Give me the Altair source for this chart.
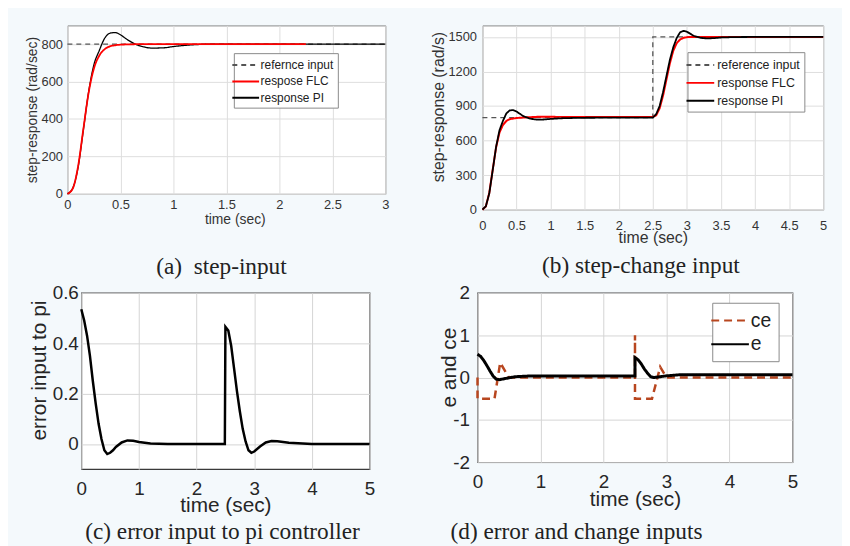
import altair as alt
import pandas as pd

# ---------------- (a) step-input ----------------
a_ref_t = [0, 3]
a_ref_v = [800, 800]
a_pi_t = [0, 0.05, 0.1, 0.15, 0.2, 0.25, 0.3, 0.35, 0.4, 0.45, 0.5, 0.55, 0.6, 0.65, 0.7, 0.8, 0.9, 1.0, 1.1, 1.2, 1.4, 1.6, 2.0, 3.0]
a_pi_v = [0, 30, 140, 340, 545, 690, 765, 830, 858, 862, 850, 830, 812, 798, 788, 779, 780, 787, 793, 797, 800, 800, 800, 800]
a_flc_t = [0, 0.05, 0.1, 0.15, 0.2, 0.25, 0.3, 0.35, 0.4, 0.45, 0.5, 0.6, 0.7, 0.8, 1.0, 1.5, 2.25]
a_flc_v = [0, 28, 145, 345, 540, 670, 738, 772, 788, 794, 797, 799, 800, 800, 800, 800, 800]
a_names = ["refernce input", "respose FLC", "response PI"]
a_xticks = [0, 0.5, 1, 1.5, 2, 2.5, 3]
a_yticks = [0, 200, 400, 600, 800]

# ---------------- (b) step-change input ----------------
b_ref_t = [0, 2.5, 2.5, 5]
b_ref_v = [800, 800, 1500, 1500]
b_flc_t = [0, 0.05, 0.1, 0.15, 0.2, 0.25, 0.3, 0.35, 0.4, 0.5, 0.6, 0.8, 1.0, 1.5, 2.0, 2.5,
           2.55, 2.6, 2.65, 2.7, 2.75, 2.8, 2.85, 2.9, 2.95, 3.0, 3.1, 3.3, 5.0]
b_flc_v = [0, 28, 145, 345, 540, 670, 735, 770, 786, 796, 800, 806, 806, 805, 805, 805,
           820, 880, 990, 1130, 1270, 1380, 1445, 1478, 1492, 1498, 1500, 1500, 1500]
b_pi_t = [0, 0.05, 0.1, 0.15, 0.2, 0.25, 0.3, 0.35, 0.4, 0.45, 0.5, 0.55, 0.6, 0.7, 0.8, 0.9, 1.0, 1.2, 1.5, 2.0, 2.5,
          2.55, 2.6, 2.65, 2.7, 2.75, 2.8, 2.85, 2.9, 2.95, 3.0, 3.05, 3.1, 3.2, 3.3, 3.4, 3.5, 3.7, 4.0, 5.0]
b_pi_v = [0, 30, 140, 340, 545, 690, 770, 835, 862, 865, 852, 832, 812, 790, 782, 783, 788, 795, 798, 799, 800,
          830, 900, 1020, 1160, 1300, 1410, 1490, 1540, 1553, 1545, 1528, 1510, 1492, 1487, 1490, 1495, 1499, 1500, 1500]
b_names = ["reference input", "response FLC", "response PI"]
b_xticks = [0, 0.5, 1, 1.5, 2, 2.5, 3, 3.5, 4, 4.5, 5]
b_yticks = [0, 300, 600, 900, 1200, 1500]

# ---------------- (c) error input to pi controller ----------------
c_t = [0, 0.05, 0.1, 0.15, 0.2, 0.25, 0.3, 0.35, 0.4, 0.45, 0.5, 0.55, 0.6, 0.7, 0.8, 0.9, 1.0, 1.2, 1.5, 2.49,
       2.5, 2.55, 2.6, 2.65, 2.7, 2.75, 2.8, 2.85, 2.9, 2.95, 3.0, 3.1, 3.2, 3.3, 3.4, 3.6, 4.0, 5.0]
c_v = [0.535, 0.49, 0.43, 0.35, 0.25, 0.16, 0.08, 0.02, -0.025, -0.04, -0.035, -0.025, -0.012, 0.006, 0.014, 0.013, 0.008, 0.002, 0.0, 0.0,
       0.465, 0.45, 0.39, 0.3, 0.21, 0.13, 0.06, 0.01, -0.025, -0.035, -0.03, -0.01, 0.006, 0.012, 0.011, 0.005, 0.0, 0.0]
c_xticks = [0, 1, 2, 3, 4, 5]
c_yticks = [0, 0.2, 0.4, 0.6]

# ---------------- (d) error and change inputs ----------------
d_ce_t = [0, 0, 0.27, 0.36, 0.5, 2.5, 2.5, 2.5, 2.77, 2.9, 3.0, 5.0]
d_ce_v = [0, -0.5, -0.5, 0.35, 0, 0, 1.0, -0.5, -0.5, 0.25, 0, 0]
d_e_t = [0, 0.05, 0.1, 0.15, 0.2, 0.25, 0.3, 0.35, 0.45, 0.6, 0.8, 2.5, 2.5, 2.55, 2.6, 2.65, 2.7, 2.75, 2.8, 2.9, 3.0, 3.2, 5.0]
d_e_v = [0.55, 0.5, 0.4, 0.28, 0.15, 0.03, -0.04, -0.05, -0.02, 0.02, 0.035, 0.035, 0.47, 0.42, 0.32, 0.2, 0.1, 0.02, 0.0, 0.02, 0.04, 0.065, 0.065]
d_names = ["ce", "e"]
d_xticks = [0, 1, 2, 3, 4, 5]
d_yticks = [-2, -1, 0, 1, 2]

captions = ["(a)\u00a0 step-input", "(b) step-change input",
            "(c) error input to pi controller", "(d) error and change inputs"]

FONT = "Liberation Sans"
SERIF = "Liberation Serif"
CAP_FS = 23.5


def df(t, v, name):
    return pd.DataFrame({"t": t, "v": v, "series": name, "i": list(range(len(t)))})


def xaxis(vals, fs, tfs, lpad, tx, ty, col, gcol):
    return alt.Axis(values=vals, labelExpr="toString(datum.value)", title="time (sec)", labelFontSize=fs, titleFontSize=tfs,
                    labelPadding=lpad, ticks=False, tickSize=0, domain=False, grid=True, gridColor=gcol,
                    labelFlush=False, labelOverlap=False, labelBaseline="middle",
                    titleX=tx, titleY=ty, titleBaseline="middle", titleAlign="center",
                    titleFontWeight="normal", labelColor=col, titleColor=col, labelFont=FONT, titleFont=FONT)


def yaxis(vals, title, fs, tfs, lpad, tx, ty, col, gcol):
    return alt.Axis(values=vals, labelExpr="toString(datum.value)", title=title, labelFontSize=fs, titleFontSize=tfs,
                    labelPadding=lpad, ticks=False, tickSize=0, domain=False, grid=True, gridColor=gcol,
                    labelFlush=False, labelOverlap=False,
                    titleX=tx, titleY=ty, titleBaseline="middle", titleAlign="center", titleAngle=270,
                    titleFontWeight="normal", labelColor=col, titleColor=col, labelFont=FONT, titleFont=FONT)


def legend(x, y, fs, size, path, loff, rpad, pad):
    return alt.Legend(title=None, orient="none", legendX=x, legendY=y, direction="vertical",
                      strokeColor="#8a8a8a", fillColor="white", padding=pad, symbolType=path,
                      symbolSize=size, symbolStrokeWidth=2, labelFontSize=fs, labelFont=FONT,
                      labelColor="#222222", labelOffset=loff, rowPadding=rpad, labelLimit=300)


def caption(text, offset, dx):
    return alt.TitleParams(text, orient="bottom", anchor="middle", offset=offset, dx=dx,
                           font=SERIF, fontSize=CAP_FS, fontWeight="normal", color="#222222")


# ---------- panel a ----------
ax = alt.X("t:Q", scale=alt.Scale(domain=[0, 3], nice=False, zero=False),
           axis=xaxis(a_xticks, 13, 14, 11, 169, 26, "#333333", "#dedede"))
ay = alt.Y("v:Q", scale=alt.Scale(domain=[0, 900], nice=False),
           axis=yaxis(a_yticks, "step-response (rad/sec)", 13, 14, 5, -35, 85, "#333333", "#dedede"))
a_leg = legend(168, 28, 12, 196, "M-1.93,0L1.93,0", 7, 2.5, 4)
ac = alt.Color("series:N", scale=alt.Scale(domain=a_names, range=["#555555", "#ff0000", "#000000"]), legend=a_leg)
ad = alt.StrokeDash("series:N", scale=alt.Scale(domain=a_names, range=[[5, 4], [1, 0], [1, 0]]), legend=a_leg)
a_layers = []
for t, v, n, w in [(a_ref_t, a_ref_v, a_names[0], 1.2), (a_pi_t, a_pi_v, a_names[2], 1.3), (a_flc_t, a_flc_v, a_names[1], 1.8)]:
    a_layers.append(alt.Chart(df(t, v, n)).mark_line(strokeWidth=w, interpolate="monotone")
                    .encode(x=ax, y=ay, color=ac, strokeDash=ad, order="i:Q"))
panel_a = alt.layer(*a_layers).properties(
    width=321, height=170,
    view=alt.ViewBackground(fill="white", stroke="#8a8a8a", strokeWidth=1),
    title=caption(captions[0], 29, -5))

# ---------- panel b ----------
bx = alt.X("t:Q", scale=alt.Scale(domain=[0, 5], nice=False, zero=False),
           axis=xaxis(b_xticks, 13, 16, 16, 172, 28, "#333333", "#dedede"))
by = alt.Y("v:Q", scale=alt.Scale(domain=[0, 1600], nice=False),
           axis=yaxis(b_yticks, "step-response (rad/s)", 13, 16, 6, -44, 82, "#333333", "#dedede"))
b_leg = legend(207, 27, 12.5, 256, "M-1.75,0L1.75,0", 8, 2, 4)
bc = alt.Color("series:N", scale=alt.Scale(domain=b_names, range=["#555555", "#ff0000", "#000000"]), legend=b_leg)
bd = alt.StrokeDash("series:N", scale=alt.Scale(domain=b_names, range=[[5, 4], [1, 0], [1, 0]]), legend=b_leg)
b_layers = []
for t, v, n, w in [(b_ref_t, b_ref_v, b_names[0], 1.3), (b_flc_t, b_flc_v, b_names[1], 2.0), (b_pi_t, b_pi_v, b_names[2], 1.8)]:
    b_layers.append(alt.Chart(df(t, v, n)).mark_line(strokeWidth=w)
                    .encode(x=bx, y=by, color=bc, strokeDash=bd, order="i:Q"))
panel_b = alt.layer(*b_layers).properties(
    width=344, height=186,
    view=alt.ViewBackground(fill="white", stroke="#8a8a8a", strokeWidth=1),
    title=caption(captions[1], 9, -12))

# ---------- panel c ----------
cx = alt.X("t:Q", scale=alt.Scale(domain=[0, 5], nice=False, zero=False),
           axis=xaxis(c_xticks, 19, 21, 20, 145.5, 37, "#262626", "#d4d4d4"))
cy = alt.Y("v:Q", scale=alt.Scale(domain=[-0.1, 0.6], nice=False, zero=False),
           axis=yaxis(c_yticks, "error input to pi", 19, 21, 3, -42, 78, "#262626", "#d4d4d4"))
panel_c = alt.Chart(df(c_t, c_v, "e")).mark_line(strokeWidth=2.5, color="#000000").encode(
    x=cx, y=cy, order="i:Q").properties(
    width=291, height=178,
    view=alt.ViewBackground(fill="white", stroke="#3a3a3a", strokeWidth=1.2),
    title=caption(captions[2], 5, -3))

# ---------- panel d ----------
dx_ = alt.X("t:Q", scale=alt.Scale(domain=[0, 5], nice=False, zero=False),
            axis=xaxis(d_xticks, 19, 21, 20, 159, 38, "#262626", "#d4d4d4"))
dy_ = alt.Y("v:Q", scale=alt.Scale(domain=[-2, 2], nice=False, zero=False),
            axis=yaxis(d_yticks, "e and ce", 19, 21, 8, -28, 75, "#262626", "#d4d4d4"))
d_leg = legend(237, 10, 19.5, 400, "M-1.9,0L1.9,0", 10, 3, 7)
dc = alt.Color("series:N", scale=alt.Scale(domain=d_names, range=["#b8461f", "#000000"]), legend=d_leg)
dd = alt.StrokeDash("series:N", scale=alt.Scale(domain=d_names, range=[[8, 5], [1, 0]]), legend=d_leg)
d_layers = []
for t, v, n, w in [(d_ce_t, d_ce_v, d_names[0], 2.5), (d_e_t, d_e_v, d_names[1], 3.0)]:
    d_layers.append(alt.Chart(df(t, v, n)).mark_line(strokeWidth=w)
                    .encode(x=dx_, y=dy_, color=dc, strokeDash=dd, order="i:Q"))
panel_d = alt.layer(*d_layers).properties(
    width=318, height=171,
    view=alt.ViewBackground(fill="white", stroke="#3a3a3a", strokeWidth=1.2),
    title=caption(captions[3], 10, -59))

spacer = alt.Chart(pd.DataFrame({"s": [0]})).mark_point(opacity=0).encode(
    x=alt.value(0), y=alt.value(0)).properties(
    width=1, height=1, view=alt.ViewBackground(stroke="transparent", fill="transparent"))

row1 = alt.hconcat(panel_a, panel_b, spacing=98, bounds="flush").resolve_scale(
    color="independent", strokeDash="independent").resolve_legend(color="independent", strokeDash="independent")
inner2 = alt.hconcat(panel_c, panel_d, spacing=109, bounds="flush").resolve_scale(
    color="independent", strokeDash="independent").resolve_legend(color="independent", strokeDash="independent")
row2 = alt.hconcat(spacer, inner2, spacing=13, bounds="flush").resolve_scale(
    color="independent", strokeDash="independent").resolve_legend(color="independent", strokeDash="independent")

chart = alt.vconcat(row1, row2, spacing=4).resolve_scale(
    x="independent", y="independent", color="independent", strokeDash="independent").resolve_legend(
    color="independent", strokeDash="independent").properties(
    background="#f4f9fc", padding={"left": 17, "top": 14, "right": 14, "bottom": 0})

chart.save("out.html", embed_options={"renderer": "svg", "actions": False})
